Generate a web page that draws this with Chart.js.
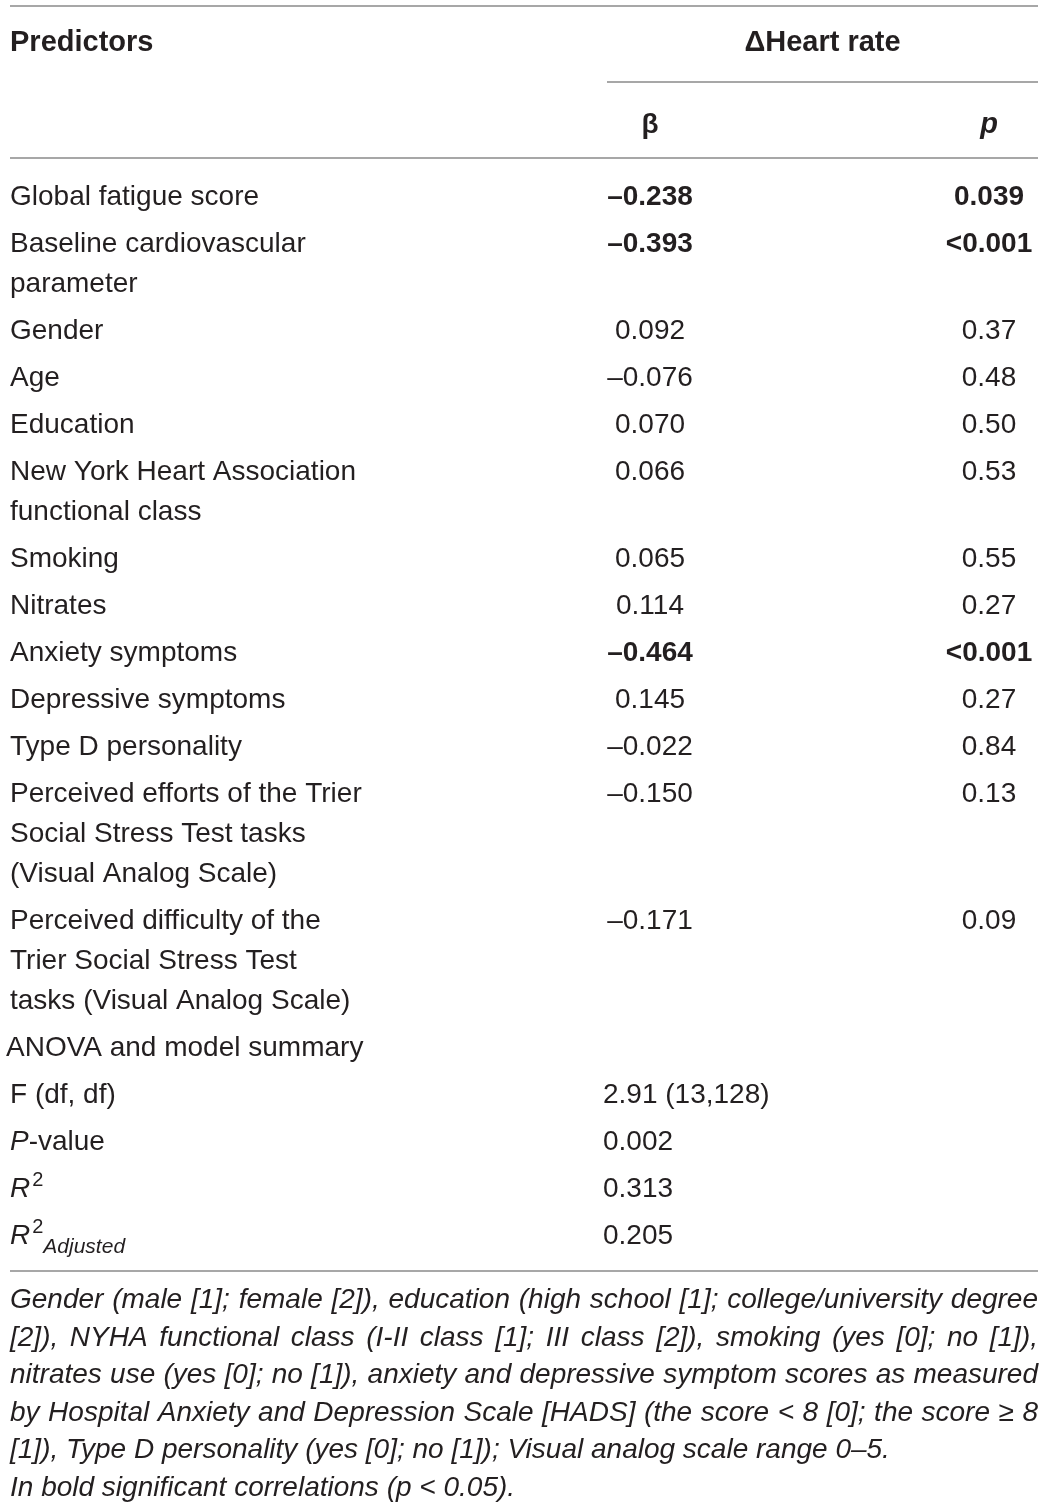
<!DOCTYPE html>
<html>
<head>
<meta charset="utf-8">
<script src="https://cdn.jsdelivr.net/npm/chart.js@4/dist/chart.umd.min.js"></script>
<style>
  html, body { margin: 0; padding: 0; background: #fff; }
  canvas { display: block; }
</style>
</head>
<body>
<canvas id="table" width="1045" height="1506"></canvas>
<script>
// table content
var predictors = [
    'Global fatigue score',
    'Baseline cardiovascular\nparameter',
    'Gender',
    'Age',
    'Education',
    'New York Heart Association\nfunctional class',
    'Smoking',
    'Nitrates',
    'Anxiety symptoms',
    'Depressive symptoms',
    'Type D personality',
    'Perceived efforts of the Trier\nSocial Stress Test tasks\n(Visual Analog Scale)',
    'Perceived difficulty of the\nTrier Social Stress Test\ntasks (Visual Analog Scale)'
];
var betas = ['–0.238', '–0.393', '0.092', '–0.076', '0.070', '0.066', '0.065', '0.114', '–0.464', '0.145', '–0.022', '–0.150', '–0.171'];
var pValues = ['0.039', '<0.001', '0.37', '0.48', '0.50', '0.53', '0.55', '0.27', '<0.001', '0.27', '0.84', '0.13', '0.09'];
var significant = [true, true, false, false, false, false, false, false, true, false, false, false, false];

var summaryTitle = 'ANOVA and model summary';
// *italic*  ^superscript^  ~subscript~
var summaryLabels = ['F (df, df)', '*P*-value', '*R*^2^', '*R*^2^~*Adjusted*~'];
var summaryValues = ['2.91 (13,128)', '0.002', '0.313', '0.205'];

var footnote = [
    'Gender (male [1]; female [2]), education (high school [1]; college/university degree',
    '[2]), NYHA functional class (I-II class [1]; III class [2]), smoking (yes [0]; no [1]),',
    'nitrates use (yes [0]; no [1]), anxiety and depressive symptom scores as measured',
    'by Hospital Anxiety and Depression Scale [HADS] (the score < 8 [0]; the score ≥ 8',
    '[1]), Type D personality (yes [0]; no [1]); Visual analog scale range 0–5.',
    'In bold significant correlations (p < 0.05).'
];
var footnoteJustified = [true, true, true, true, false, false];

var FAM = '"Liberation Sans", Arial, Helvetica, sans-serif';
var INK = '#231f20';
var RULE = '#8a8a8a';

function font(size, bold, italic) {
    return (italic ? 'italic ' : '') + (bold ? 'bold ' : '') + size + 'px ' + FAM;
}

function parseRuns(str, size, bold) {
    var runs = [], buf = '', it = false, sup = false, sub = false;
    function flush() {
        if (!buf) return;
        var s = sup ? 20 : (sub ? 21 : size);
        runs.push({ t: buf, font: font(s, bold, it), dy: sup ? -11 : (sub ? 9 : 0), pad: sup ? 2 : 0 });
        buf = '';
    }
    for (var i = 0; i < str.length; i++) {
        var c = str[i];
        if (c === '*') { flush(); it = !it; }
        else if (c === '^') { flush(); sup = !sup; }
        else if (c === '~') { flush(); sub = !sub; }
        else buf += c;
    }
    flush();
    return runs;
}

function drawRuns(ctx, runs, x, y, align) {
    var w = 0;
    runs.forEach(function (r) { ctx.font = r.font; r.w = ctx.measureText(r.t).width + (r.pad || 0); w += r.w; });
    var cx = align === 'center' ? x - w / 2 : (align === 'right' ? x - w : x);
    ctx.textAlign = 'left';
    runs.forEach(function (r) { ctx.font = r.font; ctx.fillText(r.t, cx + (r.pad || 0), y + r.dy); cx += r.w; });
}

var tablePlugin = {
    id: 'tableDraw',
    afterDraw: function (chart) {
        var ctx = chart.ctx;
        var sx = chart.scales.x, sy = chart.scales.y;
        var X = function (v) { return sx.getPixelForValue(v); };
        var Y = function (v) { return sy.getPixelForValue(v); };

        ctx.save();
        ctx.fillStyle = INK;
        ctx.textBaseline = 'alphabetic';

        function rule(x0, x1, yv) {
            ctx.strokeStyle = RULE;
            ctx.lineWidth = 1.5;
            ctx.beginPath();
            ctx.moveTo(X(x0), Y(yv));
            ctx.lineTo(X(x1), Y(yv));
            ctx.stroke();
        }

        var left = 10, right = 1038, colB = 650, colP = 989, colStart = 607;

        // header
        rule(left, right, 6);
        ctx.font = font(29, true, false);
        ctx.textAlign = 'left';
        ctx.fillText('Predictors', X(left), Y(51));
        drawRuns(ctx, [{ t: 'Δ', font: font(29, true, false), dy: 0 }, { t: 'Heart rate', font: font(29, true, false), dy: 0 }], X((colStart + right) / 2), Y(51), 'center');
        rule(colStart, right, 82);
        drawRuns(ctx, [{ t: 'β', font: font(28, true, false), dy: 0 }], X(colB), Y(133), 'center');
        drawRuns(ctx, [{ t: 'p', font: font(29, true, true), dy: 0 }], X(colP), Y(133), 'center');
        rule(left, right, 158);

        // predictor rows
        var yb = 205;
        predictors.forEach(function (label, i) {
            var lines = label.split('\n');
            ctx.font = font(28, false, false);
            ctx.textAlign = 'left';
            lines.forEach(function (ln, k) { ctx.fillText(ln, X(left), Y(yb + k * 40)); });
            ctx.font = font(28, significant[i], false);
            ctx.textAlign = 'center';
            ctx.fillText(betas[i], X(colB), Y(yb));
            ctx.fillText(pValues[i], X(colP), Y(yb));
            yb += (lines.length - 1) * 40 + 47;
        });

        // model summary
        ctx.font = font(28, false, false);
        ctx.textAlign = 'left';
        ctx.fillText(summaryTitle, X(6), Y(yb));
        yb += 47;
        summaryLabels.forEach(function (lab, i) {
            drawRuns(ctx, parseRuns(lab, 28, false), X(left), Y(yb), 'left');
            ctx.font = font(28, false, false);
            ctx.textAlign = 'left';
            ctx.fillText(summaryValues[i], X(603), Y(yb));
            if (i < summaryLabels.length - 1) yb += 47;
        });
        var ruleY = yb + 27;
        rule(left, right, ruleY);

        // footnote
        var fy = ruleY + 37;
        ctx.font = font(28, false, true);
        footnote.forEach(function (ln, i) {
            ctx.textAlign = 'left';
            if (footnoteJustified[i]) {
                var words = ln.split(' ');
                var tot = 0;
                words.forEach(function (w) { tot += ctx.measureText(w).width; });
                var gap = (X(right) - X(left) - tot) / (words.length - 1);
                var cx = X(left);
                words.forEach(function (w) { ctx.fillText(w, cx, Y(fy)); cx += ctx.measureText(w).width + gap; });
            } else {
                ctx.fillText(ln, X(left), Y(fy));
            }
            fy += 37.5;
        });
        ctx.restore();
    }
};

new Chart(document.getElementById('table').getContext('2d'), {
    type: 'scatter',
    data: { datasets: [] },
    options: {
        responsive: false,
        animation: false,
        devicePixelRatio: 1,
        layout: { padding: 0 },
        plugins: { legend: { display: false }, tooltip: { enabled: false } },
        scales: {
            x: { type: 'linear', min: 0, max: 1045, display: false },
            y: { type: 'linear', min: 0, max: 1506, reverse: true, display: false }
        }
    },
    plugins: [tablePlugin]
});
</script>
</body>
</html>
